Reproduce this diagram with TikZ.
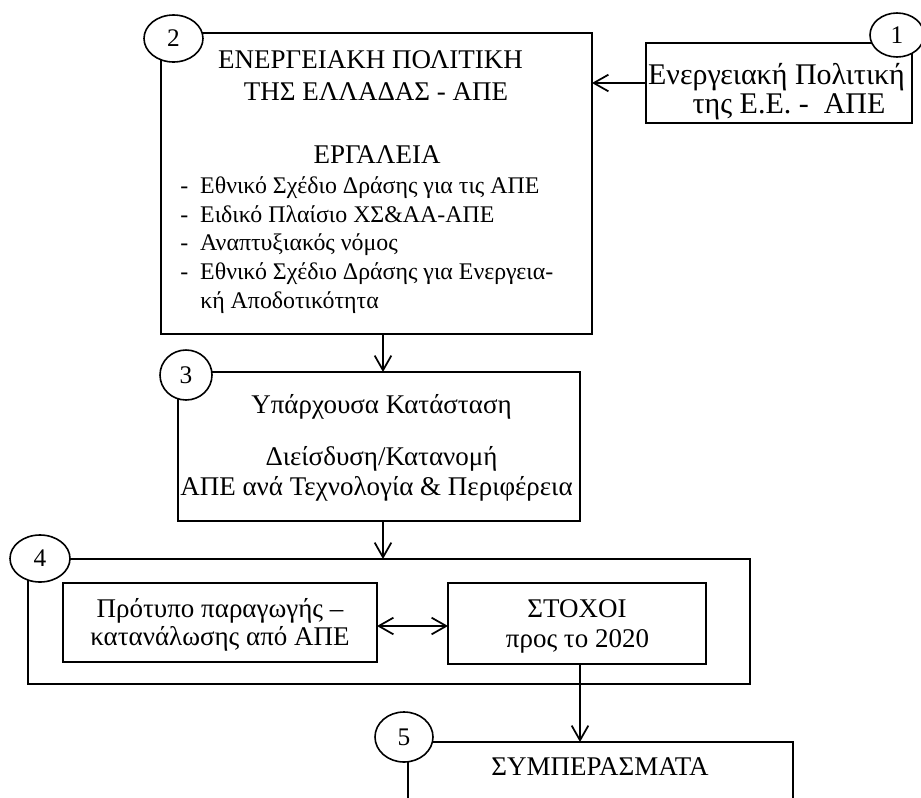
\documentclass[tikz,border=0pt]{standalone}
\usepackage{fontspec}
\setmainfont{Liberation Serif}
\usetikzlibrary{arrows.meta,shapes.geometric,fit}
\frenchspacing
\begin{document}
\begin{tikzpicture}[x=0.75pt,y=-0.75pt,
  box/.style={draw,line width=1.3pt,rectangle,inner sep=0pt,outer sep=0pt},
  num/.style={draw,fill=white,ellipse,line width=1.2pt,inner sep=0pt,outer sep=0pt,font=\fontsize{19pt}{22pt}\selectfont},
  big/.style={inner sep=0pt,anchor=base,font=\fontsize{20.25pt}{24pt}\selectfont},
  bigger/.style={inner sep=0pt,anchor=base,font=\fontsize{22.5pt}{26pt}\selectfont},
  listline/.style={inner sep=0pt,anchor=base west,font=\fontsize{17.9pt}{21pt}\selectfont},
  tip/.tip={Straight Barb[length=11pt,width=12.5pt,line width=1.3pt]},
  arr/.style={line width=1.3pt,-tip},
  darr/.style={line width=1.3pt,tip-tip}
]
\useasboundingbox (0,0) rectangle (921,797);
\clip (0,0) rectangle (921,797);
% boxes
\node[box,fit={(646,43) (912,123)}] (b1) {};
\node[box,fit={(161,33) (592,334)}] (b2) {};
\node[box,fit={(178,372) (580,521)}] (b3) {};
\node[box,fit={(28,559) (750,684)}] (b4) {};
\node[box,fit={(63,583) (377,662)}] (l4) {};
\node[box,fit={(448,583) (706,664)}] (r4) {};
\node[box,fit={(408,742) (793,880)}] (b5) {};
% number ellipses
\node[num,minimum width=40.5pt,minimum height=33pt] (c1) at (897,35) {1};
\node[num,minimum width=44.25pt,minimum height=35.25pt] (c2) at (173.5,38.5) {2};
\node[num,minimum width=39pt,minimum height=37.5pt] (c3) at (186,375) {3};
\node[num,minimum width=45pt,minimum height=35.25pt] (c4) at (40,558.5) {4};
\node[num,minimum width=43.5pt,minimum height=37.5pt] (c5) at (404,737) {5};
% texts
\node[bigger] (t1a) at (776.5,84) {Ενεργειακή Πολιτική};
\node[bigger] (t1b) at (789,113) {της Ε.Ε. -\ \ ΑΠΕ};
\node[big] (t2a) at (370.5,68) {ΕΝΕΡΓΕΙΑΚΗ ΠΟΛΙΤΙΚΗ};
\node[big] (t2b) at (376,100) {ΤΗΣ ΕΛΛΑΔΑΣ - ΑΠΕ};
\node[big] (t2c) at (377,163) {ΕΡΓΑΛΕΙΑ};
\node[listline] (l1) at (180,193) {\makebox[15pt][l]{-}Εθνικό Σχέδιο Δράσης για τις ΑΠΕ};
\node[listline] (l2) at (180,222) {\makebox[15pt][l]{-}Ειδικό Πλαίσιο ΧΣ\&ΑΑ-ΑΠΕ};
\node[listline] (l3) at (180,250) {\makebox[15pt][l]{-}Αναπτυξιακός νόμος};
\node[listline] (l4t) at (180,279) {\makebox[15pt][l]{-}Εθνικό Σχέδιο Δράσης για Ενεργεια-};
\node[listline] (l5) at (200,308) {κή Αποδοτικότητα};
\node[big] (t3a) at (381.5,413) {Υπάρχουσα Κατάσταση};
\node[big] (t3b) at (381.5,465) {Διείσδυση/Κατανομή};
\node[big] (t3c) at (376.5,495) {ΑΠΕ ανά Τεχνολογία \& Περιφέρεια};
\node[big] (t4a) at (220,617) {Πρότυπο παραγωγής –};
\node[big] (t4b) at (220,645) {κατανάλωσης από ΑΠΕ};
\node[big] (t4c) at (577,617) {ΣΤΟΧΟΙ};
\node[big] (t4d) at (577.5,647) {προς το 2020};
\node[big] (t5) at (600,775) {ΣΥΜΠΕΡΑΣΜΑΤΑ};
% connectors
\coordinate (ax1) at (383,0);
\coordinate (ax2) at (580,0);
\coordinate (ay) at (0,626);
\draw[arr] (b1.west) -- (b2.east |- b1.west);
\draw[arr] (b2.south -| ax1) -- (b3.north -| ax1);
\draw[arr] (b3.south -| ax1) -- (b4.north -| ax1);
\draw[darr] (l4.east |- ay) -- (r4.west |- ay);
\draw[arr] (r4.south -| ax2) -- (b5.north -| ax2);
\end{tikzpicture}
\end{document}
